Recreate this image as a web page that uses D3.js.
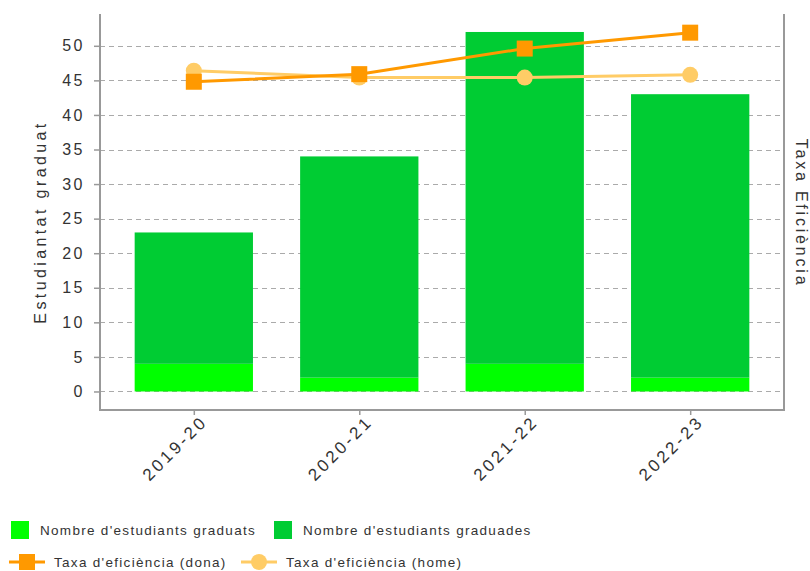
<!DOCTYPE html>
<html>
<head>
<meta charset="utf-8">
<script src="https://d3js.org/d3.v7.min.js"></script>
<style>
  body { margin: 0; background: #fff; }
  text { font-family: "Liberation Sans", Arial, sans-serif; }
</style>
</head>
<body>
<script>
// chart data
var cursos = ["2019-20", "2020-21", "2021-22", "2022-23"];
var graduats = [4, 2, 4, 2];
var graduades = [19, 32, 48, 41];
var taxaDona = [44.8, 45.9, 49.6, 51.9];
var taxaHome = [46.4, 45.4, 45.4, 45.8];
var yTicks = [0, 5, 10, 15, 20, 25, 30, 35, 40, 45, 50];

var width = 810;
var height = 571;
var pLeft = 100, pRight = 784, pTop = 14, pBottom = 410;

var svg = d3.select("body")
  .append("svg")
    .attr("width", width)
    .attr("height", height);

var x = d3.scalePoint()
  .domain(cursos)
  .range([pLeft, pRight])
  .padding(0.567);

var y = d3.scaleLinear()
  .domain([-2.68, 54.6])
  .range([pBottom, pTop]);

// right axis (Taxa Eficiència) - no labels shown
var y2 = d3.scaleLinear()
  .domain([-2.68, 54.6])
  .range([pBottom, pTop]);

var barW = x.step() * 0.715;

// grid
svg.append("g")
  .selectAll("line")
  .data(yTicks)
  .enter()
  .append("line")
    .attr("x1", pLeft)
    .attr("x2", pRight)
    .attr("y1", function(d) { return Math.round(y(d)) + 0.5; })
    .attr("y2", function(d) { return Math.round(y(d)) + 0.5; })
    .attr("stroke", "#aaa")
    .attr("stroke-dasharray", "5,4");

// stacked bars
var stack = cursos.map(function(c, i) {
  return { curs: c, a: graduats[i], b: graduades[i] };
});

svg.append("g")
  .selectAll("rect")
  .data(stack)
  .enter()
  .append("rect")
    .attr("x", function(d) { return x(d.curs) - barW / 2; })
    .attr("y", function(d) { return y(d.a); })
    .attr("width", barW)
    .attr("height", function(d) { return y(0) - y(d.a); })
    .attr("fill", "#00ff00");

svg.append("g")
  .selectAll("rect")
  .data(stack)
  .enter()
  .append("rect")
    .attr("x", function(d) { return x(d.curs) - barW / 2; })
    .attr("y", function(d) { return y(d.a + d.b); })
    .attr("width", barW)
    .attr("height", function(d) { return y(d.a) - y(d.a + d.b); })
    .attr("fill", "#00cc33");

// axes
var yAxis = svg.append("g")
  .attr("transform", "translate(" + pLeft + ",0)")
  .call(d3.axisLeft(y).tickValues(yTicks).tickSize(6).tickPadding(9));

var xAxis = svg.append("g")
  .attr("transform", "translate(0," + pBottom + ")")
  .call(d3.axisBottom(x).tickSize(5).tickPadding(4));

var rAxis = svg.append("g")
  .attr("transform", "translate(" + pRight + ",0)")
  .call(d3.axisRight(y2).tickValues([]).tickSize(0));

[yAxis, xAxis, rAxis].forEach(function(g) {
  g.select(".domain")
    .attr("stroke", "#999")
    .attr("stroke-width", 2)
    .attr("d", g === xAxis ? "M" + (pLeft - 1) + ",0H" + (pRight + 1)
      : "M0," + pTop + "V" + (pBottom + 1));
  g.selectAll(".tick line").attr("stroke", "#999").attr("stroke-width", 1.5);
  g.selectAll("text").attr("fill", "#333").style("font-size", "16px");
});

yAxis.selectAll(".tick text")
  .style("letter-spacing", "2.5px");

xAxis.selectAll(".tick text")
  .style("font-size", "17px")
  .style("letter-spacing", "3px")
  .attr("text-anchor", "end")
  .attr("dx", "1")
  .attr("dy", "10")
  .attr("transform", "rotate(-45)");

// axis titles
svg.append("text")
  .attr("transform", "translate(46," + 222 + ") rotate(-90)")
  .attr("text-anchor", "middle")
  .style("font-size", "16px")
  .style("letter-spacing", "3.4px")
  .attr("fill", "#333")
  .text("Estudiantat graduat");

svg.append("text")
  .attr("transform", "translate(796," + 213 + ") rotate(90)")
  .attr("text-anchor", "middle")
  .style("font-size", "16px")
  .style("letter-spacing", "2.8px")
  .attr("fill", "#333")
  .text("Taxa Eficiència");

// lines
var line = d3.line()
  .x(function(d, i) { return x(cursos[i]); })
  .y(function(d) { return y2(d); });

svg.append("path")
  .datum(taxaHome)
  .attr("d", line)
  .attr("fill", "none")
  .attr("stroke", "#ffcc66")
  .attr("stroke-width", 3);

svg.append("g")
  .selectAll("circle")
  .data(taxaHome)
  .enter()
  .append("circle")
    .attr("cx", function(d, i) { return x(cursos[i]); })
    .attr("cy", function(d) { return y2(d); })
    .attr("r", 8)
    .attr("fill", "#ffcc66");

svg.append("path")
  .datum(taxaDona)
  .attr("d", line)
  .attr("fill", "none")
  .attr("stroke", "#ff9900")
  .attr("stroke-width", 3);

svg.append("g")
  .selectAll("rect")
  .data(taxaDona)
  .enter()
  .append("rect")
    .attr("x", function(d, i) { return x(cursos[i]) - 8; })
    .attr("y", function(d) { return y2(d) - 8; })
    .attr("width", 16)
    .attr("height", 16)
    .attr("fill", "#ff9900");

// legend
var legend = svg.append("g")
  .style("font-size", "13.5px")
  .style("letter-spacing", "1.3px");

var boxes = [
  { x: 11, color: "#00ff00", label: "Nombre d'estudiants graduats" },
  { x: 274, color: "#00cc33", label: "Nombre d'estudiants graduades" }
];
boxes.forEach(function(b) {
  legend.append("rect")
    .attr("x", b.x).attr("y", 521)
    .attr("width", 18).attr("height", 18)
    .attr("fill", b.color);
  legend.append("text")
    .attr("x", b.x + 29).attr("y", 535)
    .attr("fill", "#333")
    .text(b.label);
});

var lines = [
  { x: 9, color: "#ff9900", shape: "square", label: "Taxa d'eficiència (dona)" },
  { x: 241, color: "#ffcc66", shape: "circle", label: "Taxa d'eficiència (home)" }
];
lines.forEach(function(l) {
  legend.append("line")
    .attr("x1", l.x).attr("x2", l.x + 36)
    .attr("y1", 562).attr("y2", 562)
    .attr("stroke", l.color).attr("stroke-width", 3);
  if (l.shape === "square") {
    legend.append("rect")
      .attr("x", l.x + 18 - 8).attr("y", 562 - 8)
      .attr("width", 16).attr("height", 16)
      .attr("fill", l.color);
  } else {
    legend.append("circle")
      .attr("cx", l.x + 18).attr("cy", 562)
      .attr("r", 8)
      .attr("fill", l.color);
  }
  legend.append("text")
    .attr("x", l.x + 45).attr("y", 567)
    .attr("fill", "#333")
    .text(l.label);
});
</script>
</body>
</html>
